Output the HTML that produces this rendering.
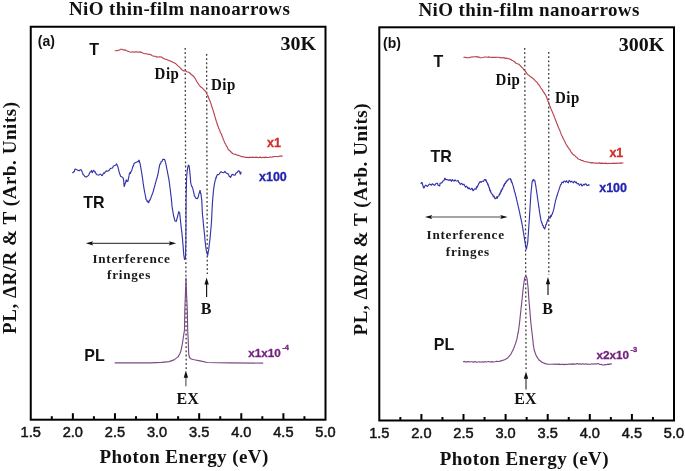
<!DOCTYPE html>
<html><head><meta charset="utf-8"><style>
html,body{margin:0;padding:0;background:#fff;}
svg{display:block;will-change:transform;}
text{font-family:"Liberation Sans",sans-serif;}
.tick{font-family:"Liberation Sans",sans-serif;font-size:14.6px;fill:#151515;stroke:#151515;stroke-width:0.5px;}
.title{font-family:"Liberation Serif",serif;font-size:19px;font-weight:bold;fill:#111;letter-spacing:0.39px;}
.axl{font-family:"Liberation Serif",serif;font-size:19px;font-weight:bold;fill:#111;letter-spacing:0.43px;}
.yl{letter-spacing:0.56px;}
.plab{font-family:"Liberation Sans",sans-serif;font-size:14px;font-weight:bold;fill:#111;}
.temp{font-family:"Liberation Serif",serif;font-size:20px;font-weight:bold;fill:#111;}
.clab{font-family:"Liberation Sans",sans-serif;font-size:16px;font-weight:bold;fill:#111;}
.dip{font-family:"Liberation Serif",serif;font-size:15px;font-weight:bold;fill:#111;letter-spacing:0.5px;}
.intf{font-family:"Liberation Serif",serif;font-size:13.2px;font-weight:bold;fill:#1a1a1a;letter-spacing:0.75px;}
.bex{font-family:"Liberation Serif",serif;font-size:16px;font-weight:bold;fill:#111;}
.mul{font-family:"Liberation Sans",sans-serif;font-size:12.5px;font-weight:bold;}
.mul2{font-family:"Liberation Sans",sans-serif;font-size:11.7px;font-weight:bold;}
.sup{font-size:7.5px;}
.red{fill:#d42a2a;stroke:#d42a2a;stroke-width:0.3px;}
.blue{fill:#2323b0;stroke:#2323b0;stroke-width:0.3px;}
.purp{fill:#72207e;stroke:#72207e;stroke-width:0.3px;}
.cT{fill:none;stroke:#b8434f;stroke-width:1.15;stroke-linejoin:round;}
.cTR{fill:none;stroke:#3434a8;stroke-width:1.15;stroke-linejoin:round;}
.cPL{fill:none;stroke:#7a4a84;stroke-width:1.15;stroke-linejoin:round;}
</style></head><body>
<svg width="685" height="471" viewBox="0 0 685 471">
<rect width="685" height="471" fill="#fff"/>
<rect x="30.75" y="26.75" width="294.75" height="392.95" fill="none" stroke="#000" stroke-width="2"/>
<text x="30.75" y="437.2" class="tick" text-anchor="middle">1.5</text>
<line x1="51.80" y1="416.2" x2="51.80" y2="419.7" stroke="#000" stroke-width="2"/>
<line x1="72.86" y1="413.2" x2="72.86" y2="419.7" stroke="#000" stroke-width="2"/>
<text x="72.86" y="437.2" class="tick" text-anchor="middle">2.0</text>
<line x1="93.91" y1="416.2" x2="93.91" y2="419.7" stroke="#000" stroke-width="2"/>
<line x1="114.96" y1="413.2" x2="114.96" y2="419.7" stroke="#000" stroke-width="2"/>
<text x="114.96" y="437.2" class="tick" text-anchor="middle">2.5</text>
<line x1="136.02" y1="416.2" x2="136.02" y2="419.7" stroke="#000" stroke-width="2"/>
<line x1="157.07" y1="413.2" x2="157.07" y2="419.7" stroke="#000" stroke-width="2"/>
<text x="157.07" y="437.2" class="tick" text-anchor="middle">3.0</text>
<line x1="178.12" y1="416.2" x2="178.12" y2="419.7" stroke="#000" stroke-width="2"/>
<line x1="199.18" y1="413.2" x2="199.18" y2="419.7" stroke="#000" stroke-width="2"/>
<text x="199.18" y="437.2" class="tick" text-anchor="middle">3.5</text>
<line x1="220.23" y1="416.2" x2="220.23" y2="419.7" stroke="#000" stroke-width="2"/>
<line x1="241.29" y1="413.2" x2="241.29" y2="419.7" stroke="#000" stroke-width="2"/>
<text x="241.29" y="437.2" class="tick" text-anchor="middle">4.0</text>
<line x1="262.34" y1="416.2" x2="262.34" y2="419.7" stroke="#000" stroke-width="2"/>
<line x1="283.39" y1="413.2" x2="283.39" y2="419.7" stroke="#000" stroke-width="2"/>
<text x="283.39" y="437.2" class="tick" text-anchor="middle">4.5</text>
<line x1="304.45" y1="416.2" x2="304.45" y2="419.7" stroke="#000" stroke-width="2"/>
<text x="325.50" y="437.2" class="tick" text-anchor="middle">5.0</text>
<rect x="379.3" y="27.3" width="294.7" height="393.2" fill="none" stroke="#000" stroke-width="2"/>
<text x="379.30" y="438.0" class="tick" text-anchor="middle">1.5</text>
<line x1="400.35" y1="417.0" x2="400.35" y2="420.5" stroke="#000" stroke-width="2"/>
<line x1="421.40" y1="414.0" x2="421.40" y2="420.5" stroke="#000" stroke-width="2"/>
<text x="421.40" y="438.0" class="tick" text-anchor="middle">2.0</text>
<line x1="442.45" y1="417.0" x2="442.45" y2="420.5" stroke="#000" stroke-width="2"/>
<line x1="463.50" y1="414.0" x2="463.50" y2="420.5" stroke="#000" stroke-width="2"/>
<text x="463.50" y="438.0" class="tick" text-anchor="middle">2.5</text>
<line x1="484.55" y1="417.0" x2="484.55" y2="420.5" stroke="#000" stroke-width="2"/>
<line x1="505.60" y1="414.0" x2="505.60" y2="420.5" stroke="#000" stroke-width="2"/>
<text x="505.60" y="438.0" class="tick" text-anchor="middle">3.0</text>
<line x1="526.65" y1="417.0" x2="526.65" y2="420.5" stroke="#000" stroke-width="2"/>
<line x1="547.70" y1="414.0" x2="547.70" y2="420.5" stroke="#000" stroke-width="2"/>
<text x="547.70" y="438.0" class="tick" text-anchor="middle">3.5</text>
<line x1="568.75" y1="417.0" x2="568.75" y2="420.5" stroke="#000" stroke-width="2"/>
<line x1="589.80" y1="414.0" x2="589.80" y2="420.5" stroke="#000" stroke-width="2"/>
<text x="589.80" y="438.0" class="tick" text-anchor="middle">4.0</text>
<line x1="610.85" y1="417.0" x2="610.85" y2="420.5" stroke="#000" stroke-width="2"/>
<line x1="631.90" y1="414.0" x2="631.90" y2="420.5" stroke="#000" stroke-width="2"/>
<text x="631.90" y="438.0" class="tick" text-anchor="middle">4.5</text>
<line x1="652.95" y1="417.0" x2="652.95" y2="420.5" stroke="#000" stroke-width="2"/>
<text x="674.00" y="438.0" class="tick" text-anchor="middle">5.0</text>
<line x1="185.2" y1="48" x2="186.2" y2="369" stroke="#383838" stroke-width="1.3" stroke-dasharray="1.8 2.4"/>
<line x1="206.6" y1="54" x2="207.3" y2="274" stroke="#383838" stroke-width="1.3" stroke-dasharray="1.8 2.4"/>
<line x1="524.7" y1="48" x2="526.1" y2="371" stroke="#383838" stroke-width="1.3" stroke-dasharray="1.8 2.4"/>
<line x1="548.7" y1="52" x2="548.8" y2="275" stroke="#383838" stroke-width="1.3" stroke-dasharray="1.8 2.4"/>
<polyline points="114.7,50.8 117.0,50.6 119.5,50.0 120.6,49.3 121.9,49.2 123.3,50.0 124.6,49.9 126.0,50.4 127.5,51.1 129.3,51.7 131.2,52.2 132.6,51.8 134.1,52.3 135.5,51.9 137.0,51.7 138.4,52.2 139.9,51.9 141.4,52.2 143.2,53.2 145.0,53.7 146.5,53.7 147.9,54.3 149.4,54.4 150.9,54.8 152.3,55.8 153.8,56.2 155.3,56.2 156.7,57.1 158.2,57.0 159.8,56.7 161.4,57.0 163.3,58.3 164.8,59.1 166.2,59.2 167.7,59.9 169.0,60.6 170.3,60.9 171.6,61.5 172.8,62.2 174.1,62.7 175.4,63.4 176.7,64.6 177.9,65.9 179.2,66.9 180.5,68.1 181.8,69.7 183.7,71.0 185.6,70.7 186.8,71.7 188.1,72.0 189.2,72.5 190.3,73.5 191.6,74.8 192.9,75.7 194.1,77.0 195.3,78.6 196.0,80.1 196.7,81.5 197.6,82.7 198.6,84.3 199.6,85.6 200.5,86.7 201.9,87.7 203.4,89.1 204.4,90.4 205.3,91.0 206.0,91.9 206.7,93.4 207.3,95.0 208.0,95.9 208.6,97.7 209.2,99.6 209.9,100.6 210.5,102.5 211.0,103.9 211.4,105.3 211.9,106.8 212.4,108.2 212.9,109.8 213.4,111.4 213.9,113.0 214.3,114.4 214.7,115.8 215.1,117.1 215.5,118.5 215.9,119.9 216.3,121.2 216.8,122.6 217.2,124.0 217.6,125.6 218.1,126.2 218.6,128.0 219.0,129.0 219.7,130.3 220.3,132.3 221.0,133.5 221.6,134.5 222.1,136.4 222.7,137.3 223.2,139.3 223.8,140.2 224.3,141.9 224.9,143.1 225.7,144.2 226.4,146.1 227.2,146.9 227.9,148.8 228.7,149.8 230.1,151.0 231.5,152.5 232.9,153.7 234.4,154.2 235.8,154.4 237.3,155.3 238.8,155.4 240.2,156.1 241.6,156.8 243.1,156.5 244.5,157.3 245.9,157.4 247.3,157.3 248.8,157.6 250.2,157.1 251.6,157.5 253.1,157.1 254.5,157.5 256.0,157.1 257.4,157.4 258.8,157.6 260.1,157.1 261.5,157.7 262.8,157.2 264.2,157.6 265.5,157.1 266.9,157.4 268.3,157.5 269.8,157.0 271.2,157.2 272.7,156.9 274.6,156.5 276.5,156.5 278.0,156.7 279.6,156.0 281.1,156.1 282.6,155.9" class="cT"/>
<polyline points="72.4,173.1 73.2,172.1 73.9,171.9 74.4,171.5 74.8,169.5 75.3,169.0 76.8,169.7 78.2,170.4 79.3,170.7 80.4,169.7 81.2,169.8 81.9,171.2 82.3,172.3 82.7,172.8 83.0,174.7 83.4,174.8 84.1,175.3 84.8,176.6 86.3,177.0 87.7,176.0 88.5,175.4 89.2,174.1 90.0,172.1 90.7,171.9 91.4,170.4 91.9,172.0 92.4,172.6 93.2,170.7 93.9,170.4 94.5,171.9 95.2,171.8 95.8,173.4 96.5,174.4 97.2,174.8 98.7,175.1 100.1,174.1 100.8,174.2 101.6,175.5 102.3,175.6 103.1,174.1 103.8,172.8 104.6,173.3 105.3,171.9 106.3,170.9 107.4,171.2 108.5,170.7 109.6,169.7 110.7,168.2 111.8,168.2 112.5,168.0 113.3,166.2 114.0,165.8 115.5,165.3 116.6,163.9 117.2,165.2 117.7,166.1 117.9,167.1 118.2,168.0 118.4,169.0 118.6,170.0 118.9,170.9 119.1,171.9 119.4,172.8 119.7,173.7 120.0,174.5 120.3,175.4 120.6,176.3 122.0,177.0 122.8,177.3 123.5,179.2 123.6,180.1 123.7,181.0 123.8,181.9 123.8,182.8 123.9,183.8 124.0,184.7 124.1,185.6 124.2,186.5 124.5,185.6 124.8,184.7 125.1,183.7 125.4,182.8 125.7,182.4 126.1,180.2 126.4,179.9 127.2,181.5 127.9,181.4 128.1,180.5 128.2,179.6 128.4,178.7 128.6,177.8 128.8,176.8 129.0,175.9 129.1,175.0 129.3,174.1 129.9,172.7 130.4,173.5 130.9,171.5 131.5,171.2 131.8,170.2 132.1,169.2 132.4,168.1 132.7,167.1 133.0,166.1 133.5,165.9 134.0,163.6 134.5,163.1 135.9,162.4 137.4,161.7 138.1,161.8 138.8,160.2 139.2,160.4 139.6,162.4 140.0,163.1 140.2,164.0 140.3,165.0 140.5,165.9 140.7,166.8 140.8,167.8 141.0,168.7 141.1,169.7 141.3,170.6 141.5,171.5 141.6,172.5 141.8,173.4 141.9,174.3 142.1,175.2 142.2,176.1 142.3,177.1 142.5,178.0 142.6,178.9 142.7,179.8 142.9,180.7 143.0,181.6 143.1,182.5 143.2,183.4 143.4,184.3 143.5,185.3 143.6,186.2 143.8,187.1 143.9,188.0 144.1,188.9 144.2,189.8 144.4,190.7 144.6,191.6 144.7,192.5 144.9,193.4 145.1,194.2 145.3,195.1 145.4,196.0 145.6,196.9 145.8,197.8 145.9,198.7 146.1,199.6 146.7,200.1 147.2,201.5 147.8,201.1 148.3,202.8 148.9,202.3 149.4,200.2 149.9,200.3 150.5,198.9 150.8,198.0 151.1,197.1 151.5,196.2 151.8,195.3 152.1,194.5 152.4,193.6 152.8,192.7 153.1,191.8 153.4,190.9 153.6,190.0 153.9,189.0 154.1,188.1 154.4,187.2 154.6,186.3 154.9,185.3 155.1,184.4 155.4,183.5 155.6,182.6 155.9,181.7 156.1,180.8 156.4,179.9 156.7,179.1 156.9,178.2 157.2,177.3 157.4,176.4 157.7,175.5 157.9,174.6 158.0,173.6 158.2,172.7 158.4,171.8 158.6,170.9 158.7,169.9 158.9,169.0 159.1,168.1 159.3,167.2 159.4,166.2 159.6,165.3 160.1,163.8 160.6,163.9 161.0,162.0 161.5,161.5 162.1,161.3 162.8,159.4 163.4,159.2 164.7,159.6 164.9,160.5 165.2,161.4 165.4,162.2 165.7,163.1 165.9,164.0 166.1,164.9 166.3,165.9 166.4,166.8 166.6,167.7 166.8,168.6 167.0,169.6 167.2,170.5 167.4,171.4 167.5,172.3 167.7,173.3 167.9,174.2 168.1,175.1 168.2,176.0 168.4,176.9 168.6,177.9 168.8,178.8 168.9,179.7 169.1,180.6 169.2,181.5 169.3,182.5 169.5,183.4 169.6,184.3 169.7,185.2 169.8,186.2 169.9,187.1 170.0,188.0 170.2,188.9 170.3,189.9 170.4,190.8 170.5,191.8 170.6,192.8 170.7,193.7 170.8,194.7 171.0,195.7 171.1,196.7 171.2,197.6 171.3,198.6 171.4,199.6 171.5,200.5 171.6,201.4 171.7,202.3 171.8,203.2 171.8,204.2 171.9,205.1 172.0,206.0 172.1,206.9 172.3,207.8 172.4,208.7 172.6,209.7 172.7,210.6 172.9,211.5 173.0,212.4 173.2,213.4 173.3,214.3 173.5,215.2 173.7,216.1 173.9,217.0 174.2,217.9 174.4,218.9 174.6,219.8 174.8,220.7 176.2,221.4 176.5,220.4 176.8,219.5 177.0,218.5 177.3,217.6 177.6,216.6 177.8,215.6 178.0,214.6 178.3,213.7 178.5,212.7 178.7,211.7 179.7,213.1 179.8,214.0 179.9,215.0 180.0,215.9 180.1,216.9 180.2,217.8 180.3,218.8 180.4,219.7 180.5,220.7 180.6,221.6 180.7,222.6 180.8,223.5 180.9,224.5 181.0,225.4 181.1,226.4 181.2,227.3 181.3,228.3 181.4,229.2 181.6,230.2 181.7,231.1 181.8,232.1 181.9,233.0 182.0,234.0 182.1,234.9 182.2,235.9 182.3,236.9 182.4,237.8 182.5,238.8 182.6,239.8 182.6,240.8 182.7,241.7 182.8,242.7 182.9,243.7 183.0,244.6 183.1,245.6 183.2,246.6 183.2,247.5 183.3,248.5 183.4,249.4 183.4,250.4 183.5,251.4 183.6,252.3 183.7,253.3 183.7,254.2 183.8,255.2 184.0,256.2 184.2,257.3 184.3,258.3 184.5,259.4 185.5,258.0 185.5,257.1 185.5,256.2 185.6,255.2 185.6,254.3 185.6,253.4 185.6,252.5 185.7,251.5 185.7,250.6 185.7,249.7 185.7,248.8 185.7,247.9 185.8,246.9 185.8,246.0 185.8,245.1 185.8,244.2 185.9,243.2 185.9,242.3 185.9,241.4 185.9,240.5 185.9,239.6 185.9,238.7 185.9,237.8 185.9,236.9 185.9,236.0 185.9,235.1 185.9,234.2 185.9,233.3 185.9,232.4 185.9,231.5 186.0,230.6 186.0,229.7 186.0,228.8 186.0,227.9 186.0,227.0 186.0,226.1 186.0,225.2 186.0,224.3 186.0,223.4 186.0,222.5 186.0,221.6 186.0,220.7 186.0,219.8 186.0,218.9 186.0,218.0 186.0,217.1 186.0,216.2 186.0,215.3 186.0,214.4 186.0,213.5 186.0,212.6 186.0,211.7 186.0,210.8 186.1,209.9 186.1,209.0 186.1,208.1 186.1,207.2 186.1,206.3 186.1,205.4 186.1,204.5 186.1,203.6 186.1,202.7 186.1,201.8 186.1,200.9 186.1,200.0 186.1,199.1 186.1,198.1 186.2,197.2 186.2,196.3 186.2,195.3 186.2,194.4 186.2,193.4 186.2,192.5 186.3,191.6 186.3,190.6 186.3,189.7 186.3,188.8 186.3,187.8 186.4,186.9 186.4,186.0 186.4,185.0 186.4,184.1 186.4,183.1 186.4,182.2 186.5,181.3 186.5,180.3 186.5,179.4 186.6,178.5 186.6,177.6 186.7,176.7 186.8,175.7 186.9,174.8 186.9,173.9 187.0,173.0 187.1,171.9 187.2,170.9 187.4,169.9 187.5,168.8 187.7,167.9 187.9,166.9 188.2,166.0 188.4,165.1 189.1,165.6 189.2,166.7 189.3,167.7 189.5,168.8 189.6,169.8 189.7,170.9 189.8,172.0 189.9,173.0 190.0,174.1 190.1,175.1 190.2,176.2 190.3,177.1 190.3,178.0 190.4,178.9 190.5,179.8 190.6,180.7 190.6,181.6 190.7,182.5 190.9,183.6 191.2,184.7 191.8,186.6 192.3,186.8 192.6,187.9 192.9,188.9 193.1,189.9 193.4,191.0 193.6,192.0 193.8,192.9 194.0,193.9 194.2,194.8 194.4,195.8 194.9,196.2 195.5,197.9 196.5,198.4 197.3,198.7 198.1,197.4 198.4,196.3 198.6,195.2 198.9,194.2 199.2,193.1 199.6,191.8 199.9,190.5 200.2,190.6 200.5,193.1 200.8,193.1 200.9,194.0 201.1,195.0 201.2,195.9 201.3,196.8 201.4,197.8 201.6,198.7 201.7,199.7 201.8,200.6 201.8,201.5 201.9,202.5 201.9,203.4 202.0,204.4 202.0,205.3 202.1,206.3 202.1,207.2 202.1,208.2 202.2,209.2 202.2,210.1 202.3,211.1 202.3,212.0 202.4,213.0 202.4,213.9 202.5,214.8 202.6,215.8 202.7,216.7 202.8,217.6 202.9,218.6 203.0,219.5 203.1,220.4 203.2,221.4 203.2,222.3 203.3,223.3 203.4,224.2 203.5,225.1 203.6,226.1 203.7,227.0 203.8,227.9 203.9,228.9 204.0,229.8 204.1,230.7 204.2,231.7 204.3,232.6 204.4,233.5 204.5,234.5 204.6,235.4 204.7,236.3 204.8,237.3 204.8,238.2 204.9,239.2 205.0,240.1 205.1,241.0 205.2,242.0 205.3,242.9 205.4,243.8 205.5,244.8 205.6,245.7 205.7,246.6 205.9,247.5 206.0,248.4 206.1,249.3 206.3,250.2 206.4,251.1 206.6,252.0 206.7,252.9 207.2,253.4 207.7,255.3 207.9,254.4 208.0,253.5 208.2,252.6 208.3,251.6 208.5,250.7 208.6,249.8 208.8,248.9 208.9,248.0 209.0,247.1 209.1,246.1 209.2,245.2 209.3,244.3 209.4,243.4 209.6,242.4 209.7,241.5 209.8,240.6 209.9,239.7 210.0,238.7 210.1,237.8 210.2,236.9 210.3,235.9 210.3,235.0 210.4,234.0 210.5,233.1 210.6,232.2 210.7,231.2 210.8,230.3 210.8,229.3 210.9,228.4 211.0,227.4 211.1,226.5 211.2,225.6 211.3,224.6 211.3,223.7 211.4,222.7 211.5,221.8 211.5,220.9 211.6,219.9 211.6,219.0 211.7,218.0 211.7,217.1 211.8,216.2 211.8,215.2 211.9,214.3 211.9,213.3 211.9,212.4 212.0,211.5 212.0,210.5 212.1,209.6 212.1,208.6 212.2,207.7 212.2,206.8 212.3,205.8 212.3,204.9 212.4,203.9 212.4,203.0 212.5,202.1 212.6,201.2 212.6,200.3 212.7,199.4 212.8,198.5 212.9,197.6 212.9,196.7 213.0,195.8 213.1,194.9 213.2,194.0 213.2,193.1 213.3,192.2 213.4,191.3 213.5,190.3 213.7,189.4 213.8,188.4 213.9,187.5 214.0,186.5 214.2,185.6 214.3,184.6 214.5,183.7 214.7,182.7 214.9,181.8 215.1,180.8 215.3,179.9 215.7,179.2 216.0,177.2 216.3,177.8 216.7,176.0 217.4,174.5 218.2,174.6 219.1,174.2 220.1,172.7 221.1,171.8 222.0,172.2 223.4,172.7 224.2,172.3 224.9,171.3 225.8,172.7 227.2,173.6 227.9,173.6 228.7,175.1 229.3,176.5 229.8,176.3 230.4,177.5 230.9,176.8 231.5,175.6 232.2,174.3 233.0,174.6 234.4,175.1 235.2,175.0 235.9,173.2 237.3,172.2 238.0,171.3 238.7,170.8 239.7,171.7 240.1,173.7 240.6,174.1 240.9,172.9 241.3,171.7" class="cTR"/>
<polyline points="114.7,362.9 150.0,362.9 161.5,362.4 169.1,361.6 174.0,359.9 178.0,356.9 180.0,353.5 181.0,350.6 182.5,343.0 184.0,333.0 184.5,330.0 184.8,310.0 185.4,295.0 186.0,278.0 186.6,295.0 187.3,310.0 187.7,330.0 188.2,340.0 188.7,354.0 189.5,357.5 191.2,359.0 194.2,359.8 200.0,360.9 207.3,362.5 230.0,362.9 263.2,363.1" class="cPL"/>
<polyline points="463.4,57.2 465.2,57.4 467.0,57.8 468.9,57.6 470.8,57.2 472.1,56.9 473.5,57.0 474.8,56.7 476.1,56.6 477.4,57.1 478.7,56.9 480.0,57.6 481.6,57.8 483.1,57.5 484.6,57.0 486.0,57.0 487.4,57.2 488.7,56.9 490.1,57.2 491.4,57.4 492.7,57.2 494.0,57.4 495.6,57.4 497.1,57.2 498.6,57.3 500.0,57.6 501.4,58.0 502.7,57.5 504.1,57.9 505.4,58.4 506.7,58.1 508.0,58.8 509.3,58.9 510.5,59.3 511.7,60.3 512.9,60.7 514.0,61.2 515.0,62.3 516.1,63.3 517.2,63.7 518.8,64.3 520.3,65.6 521.2,66.7 522.2,67.6 523.1,68.4 523.9,69.9 524.8,70.7 525.8,71.9 526.9,73.6 527.9,74.7 529.0,75.3 530.0,76.4 532.1,77.7 533.2,78.8 534.2,79.4 535.3,81.0 536.4,81.7 537.3,82.7 538.2,84.3 539.1,85.0 540.0,86.5 540.9,88.0 541.7,89.1 542.5,90.1 543.4,92.0 544.2,92.7 545.1,94.4 545.9,95.5 546.4,96.7 547.0,98.5 547.5,99.6 548.0,101.3 548.6,102.3 549.1,104.0 549.6,105.4 550.2,106.6 550.7,108.2 551.2,109.2 551.8,110.8 552.3,111.7 552.9,113.4 553.4,114.6 553.9,115.6 554.5,117.4 555.0,118.4 555.5,120.0 556.0,121.0 556.5,122.7 557.1,123.7 557.6,125.2 558.1,126.8 558.7,127.7 559.2,129.4 559.8,130.2 560.3,131.9 560.8,133.1 561.4,134.6 561.9,135.8 562.5,136.7 563.1,138.5 563.7,139.3 564.3,140.8 564.9,141.8 565.5,143.3 566.1,144.3 566.9,145.4 567.7,147.0 568.5,147.6 569.3,149.4 570.1,150.0 570.9,151.8 571.7,152.6 572.5,153.9 573.5,154.9 574.6,155.3 575.6,156.8 576.7,157.2 577.8,158.7 578.8,159.2 580.1,159.5 581.4,160.5 582.6,160.5 583.9,161.3 585.2,161.7 586.6,161.7 588.0,162.2 589.5,162.2 590.9,162.9 592.3,162.6 593.7,163.0 595.0,163.1 596.4,163.0 597.7,163.3 599.0,162.9 600.3,163.4 601.6,163.1 603.0,163.4 604.3,163.4 605.6,163.1 606.9,163.6 608.3,163.3 609.6,163.5 610.9,163.3 612.2,163.5 613.6,163.1 614.9,163.4 616.3,163.4 617.7,163.1 619.1,163.3 620.6,162.9 622.0,163.2 623.4,162.8" class="cT"/>
<polyline points="420.8,183.9 421.5,182.5 422.1,182.6 422.3,183.4 422.5,184.3 422.8,185.1 423.0,186.0 423.2,186.8 423.4,187.7 424.0,188.0 424.6,186.5 425.6,185.2 426.5,185.8 427.5,186.5 428.5,185.2 429.4,184.0 430.4,184.5 431.4,185.2 432.3,183.9 433.2,184.3 434.2,185.2 434.9,185.2 435.5,183.9 436.7,183.3 437.4,183.2 438.0,185.2 439.3,185.8 439.7,185.8 440.1,183.1 440.5,183.3 441.5,183.0 442.5,182.0 443.1,180.7 443.7,180.7 444.1,180.3 444.6,178.3 445.0,178.2 445.6,179.6 446.3,179.5 447.2,179.6 448.2,180.1 449.0,180.5 449.9,179.6 450.7,180.1 451.6,181.3 452.4,179.6 453.3,180.7 454.1,181.1 455.0,179.8 455.8,180.7 456.8,181.0 457.7,180.7 458.2,180.6 458.6,182.3 459.1,182.4 459.6,183.3 460.5,184.5 461.3,183.3 462.2,183.9 463.0,184.9 463.9,184.1 464.7,185.8 465.6,187.2 466.4,186.2 467.3,187.1 468.1,188.8 469.0,187.7 469.8,189.0 470.8,189.5 471.7,188.4 472.3,188.6 473.0,190.7 473.6,190.3 474.6,188.8 475.5,189.0 476.0,189.4 476.5,186.7 477.0,187.6 477.5,186.5 477.9,185.1 478.3,185.2 478.7,183.6 479.1,183.4 479.5,182.3 480.3,181.5 481.1,182.5 481.9,181.3 482.7,181.2 483.6,181.4 484.4,179.5 485.3,179.5 485.7,180.7 486.1,180.0 486.6,182.2 487.0,182.3 487.3,182.6 487.6,184.5 487.9,183.7 488.2,185.6 488.5,185.0 488.8,187.1 489.1,187.6 489.4,187.5 489.7,190.1 490.0,189.6 490.3,191.5 490.6,190.8 490.9,192.9 491.2,192.9 491.7,193.4 492.3,194.6 492.8,194.6 493.3,196.8 493.9,196.0 494.4,197.1 495.1,198.7 495.9,198.6 496.6,196.9 497.2,198.4 497.9,196.2 498.6,196.1 499.0,195.8 499.4,193.8 499.8,194.6 500.2,192.6 500.6,193.0 501.0,190.4 501.4,191.5 501.8,189.7 502.2,188.6 502.6,189.2 503.0,187.0 503.4,187.0 503.8,184.9 504.2,185.9 504.6,183.6 505.0,183.3 505.5,183.7 506.1,181.3 506.6,181.9 507.1,180.3 507.7,180.5 508.2,179.5 509.2,178.8 510.3,178.7 510.6,179.8 511.0,179.4 511.4,182.1 511.7,181.4 512.0,182.8 512.4,183.3 512.6,184.1 512.8,184.9 513.0,185.7 513.3,186.4 513.5,187.2 513.7,188.0 513.9,188.8 514.1,189.6 514.3,190.4 514.5,191.2 514.7,192.0 515.0,192.7 515.2,193.5 515.4,194.3 515.6,195.1 515.8,195.9 516.0,196.7 516.2,197.5 516.4,198.3 516.5,199.1 516.7,199.9 516.9,200.7 517.1,201.5 517.3,202.4 517.5,203.2 517.7,204.0 517.9,204.8 518.0,205.6 518.2,206.4 518.4,207.2 518.6,208.0 518.8,208.8 519.0,209.6 519.2,210.4 519.3,211.3 519.5,212.1 519.7,212.9 519.9,213.7 520.0,214.6 520.2,215.4 520.4,216.2 520.6,217.0 520.8,217.8 520.9,218.7 521.1,219.5 521.3,220.3 521.5,221.1 521.6,222.0 521.8,222.8 522.0,223.6 522.1,224.4 522.3,225.2 522.4,226.0 522.5,226.8 522.7,227.6 522.8,228.4 522.9,229.2 523.0,230.0 523.2,230.8 523.3,231.6 523.4,232.4 523.6,233.2 523.7,234.0 523.8,234.8 524.0,235.6 524.1,236.4 524.2,237.2 524.4,238.0 524.5,238.8 524.6,239.6 524.7,240.4 524.9,241.2 525.0,241.9 525.1,242.7 525.2,243.5 525.4,244.3 525.5,245.1 525.6,245.9 525.8,246.7 526.0,247.5 526.2,248.3 526.4,249.1 526.6,248.3 526.7,247.5 526.9,246.7 527.0,245.9 527.2,245.1 527.4,244.3 527.5,243.5 527.7,242.7 527.8,241.9 527.8,241.1 527.9,240.3 527.9,239.5 528.0,238.7 528.0,237.9 528.1,237.1 528.1,236.3 528.2,235.5 528.3,234.7 528.3,233.9 528.4,233.1 528.4,232.3 528.5,231.4 528.5,230.6 528.6,229.8 528.6,229.0 528.7,228.2 528.8,227.4 528.8,226.6 528.9,225.8 528.9,225.0 529.0,224.2 529.0,223.4 529.1,222.6 529.1,221.8 529.2,221.0 529.3,220.2 529.3,219.4 529.4,218.5 529.4,217.7 529.5,216.9 529.5,216.1 529.6,215.3 529.6,214.4 529.7,213.6 529.7,212.8 529.8,212.0 529.8,211.1 529.9,210.3 529.9,209.5 530.0,208.7 530.0,207.9 530.1,207.0 530.1,206.2 530.2,205.4 530.2,204.6 530.3,203.8 530.3,202.9 530.4,202.1 530.4,201.3 530.5,200.5 530.5,199.6 530.6,198.8 530.6,198.0 530.7,197.2 530.7,196.4 530.8,195.5 530.8,194.7 530.9,193.9 531.0,193.1 531.1,192.2 531.2,191.4 531.2,190.5 531.3,189.7 531.4,188.8 531.5,188.0 531.6,187.2 531.7,186.3 531.8,185.5 531.8,184.6 531.9,183.8 532.0,182.9 532.1,182.1 532.6,180.1 533.0,181.1 533.5,179.5 534.8,180.4 534.9,181.2 535.1,182.1 535.2,182.9 535.4,183.8 535.5,184.7 535.7,185.5 535.9,186.3 536.0,187.2 536.1,188.0 536.2,188.9 536.4,189.7 536.5,190.6 536.6,191.4 536.7,192.3 536.9,193.1 537.0,193.9 537.1,194.8 537.2,195.6 537.3,196.5 537.5,197.3 537.6,198.2 537.7,199.0 537.8,199.8 537.9,200.6 538.0,201.4 538.2,202.2 538.3,203.0 538.4,203.8 538.5,204.6 538.6,205.3 538.7,206.1 538.8,206.9 538.9,207.7 539.1,208.5 539.2,209.3 539.3,210.1 539.4,210.9 539.5,211.8 539.7,212.6 539.8,213.4 540.0,214.3 540.1,215.2 540.2,216.0 540.4,216.8 540.5,217.7 540.7,218.6 540.8,219.4 541.0,220.2 541.1,221.1 541.4,221.4 541.8,223.2 542.1,222.9 542.5,225.4 542.8,225.3 543.2,225.5 543.6,227.6 544.1,227.6 544.5,228.7 544.8,228.9 545.2,226.8 545.5,226.8 545.9,224.4 546.2,224.5 546.5,223.7 546.8,222.8 547.0,221.9 547.3,221.1 547.6,220.2 547.9,219.4 548.5,219.2 549.0,217.4 549.6,217.7 550.1,218.1 550.6,215.6 551.2,216.6 551.7,214.7 552.2,214.3 552.5,213.5 552.7,212.6 553.0,211.8 553.3,210.9 553.5,210.0 553.8,209.2 554.0,208.3 554.1,207.5 554.3,206.6 554.5,205.8 554.6,204.9 554.8,204.1 555.0,203.2 555.2,202.4 555.3,201.5 555.5,200.7 555.7,199.9 556.0,199.2 556.2,198.4 556.4,197.6 556.7,196.8 556.9,196.1 557.2,195.3 557.4,194.5 557.6,193.7 557.9,193.0 558.1,192.2 558.4,191.4 558.6,190.7 558.9,189.9 559.1,189.2 559.4,188.4 559.6,187.6 559.9,186.9 560.1,186.1 560.4,185.4 560.6,184.6 561.2,184.4 561.7,182.6 562.3,182.1 563.2,182.8 564.0,181.0 564.9,181.2 565.7,182.1 566.6,180.7 567.4,182.1 568.3,182.8 569.1,180.4 570.0,181.2 570.8,182.1 571.7,181.2 572.5,182.1 573.4,182.8 574.2,181.2 575.1,181.7 575.7,182.7 576.4,182.2 577.0,183.6 577.6,183.8 578.5,183.5 579.3,185.4 580.2,184.6 581.0,183.8 581.9,186.0 582.7,185.5 583.5,184.3 584.4,184.9 585.2,183.8 586.1,184.1 586.9,185.4 587.8,185.5 588.6,184.6 589.5,185.5" class="cTR"/>
<polyline points="463.0,361.8 464.5,361.4 466.0,362.1 467.6,361.5 469.1,361.9 470.6,361.7 472.1,361.7 473.6,362.1 475.2,361.6 476.7,362.3 478.2,362.0 479.6,361.8 480.9,362.2 482.3,361.7 483.7,362.2 485.1,361.5 486.4,362.0 487.8,361.7 489.2,361.5 490.7,362.0 492.1,361.6 493.6,362.0 495.0,361.8 496.7,361.2 498.4,361.5 500.1,361.1 504.6,359.8 507.7,357.9 510.9,354.1 513.5,349.0 515.4,343.9 517.0,338.8 517.6,335.0 518.5,331.0 519.6,322.3 520.8,311.0 522.0,300.0 523.0,290.0 523.8,283.7 524.6,278.2 525.8,275.5 527.0,278.2 528.1,287.7 528.9,300.0 529.9,311.0 530.8,322.3 531.8,331.0 532.9,340.2 533.3,345.0 534.4,350.8 536.3,355.9 538.8,359.7 542.0,362.3 545.2,363.6 548.4,364.2 552.7,364.2 554.0,364.0 555.3,364.4 556.6,364.0 557.9,364.4 559.2,364.1 560.5,364.5 561.8,364.3 563.1,364.4 564.4,364.6 565.7,364.2 567.1,364.5 568.4,364.1 569.7,364.3 571.0,363.9 572.3,364.4 573.7,363.9 575.0,364.1 576.3,363.9 577.6,363.6 578.9,364.3 580.2,363.7 581.5,364.2 582.8,363.7 584.2,364.2 585.5,363.8 586.8,364.3 588.1,364.0 589.4,364.2 590.7,364.2 592.0,363.8 593.3,364.2 594.7,363.7 596.0,364.0 597.3,363.6 598.6,363.7 600.0,364.5 601.3,364.4 602.6,365.0 603.9,364.9 605.2,364.6 606.5,364.7 607.9,364.1 609.2,364.4 610.5,363.9 611.8,363.9" class="cPL"/>
<line x1="206.6" y1="282.4" x2="206.6" y2="297" stroke="#111" stroke-width="1.15"/><path d="M206.6 277.4 L204.4 284.59999999999997 L208.79999999999998 284.59999999999997 Z" fill="#111"/>
<line x1="185.9" y1="375.5" x2="185.9" y2="386.3" stroke="#555" stroke-width="1.15"/><path d="M185.9 370.5 L183.70000000000002 377.7 L188.1 377.7 Z" fill="#111"/>
<line x1="548.0" y1="282.1" x2="548.0" y2="295" stroke="#111" stroke-width="1.15"/><path d="M548.0 277.1 L545.8 284.3 L550.2 284.3 Z" fill="#111"/>
<line x1="526.0" y1="376.6" x2="526.0" y2="389.4" stroke="#333" stroke-width="1.15"/><path d="M526.0 371.6 L523.8 378.8 L528.2 378.8 Z" fill="#111"/>
<line x1="88.8" y1="243.3" x2="173.2" y2="243.3" stroke="#4a4a4a" stroke-width="1.2"/><path d="M85.8 243.3 L93.2 241.20000000000002 L91.8 243.3 L93.2 245.4 Z" fill="#111"/><path d="M176.2 243.3 L168.79999999999998 241.20000000000002 L170.2 243.3 L168.79999999999998 245.4 Z" fill="#111"/>
<line x1="427.9" y1="217.0" x2="504.6" y2="217.0" stroke="#4a4a4a" stroke-width="1.2"/><path d="M424.9 217.0 L432.29999999999995 214.9 L430.9 217.0 L432.29999999999995 219.1 Z" fill="#111"/><path d="M507.6 217.0 L500.20000000000005 214.9 L501.6 217.0 L500.20000000000005 219.1 Z" fill="#111"/>
<text x="69" y="15" class="title" >NiO thin-film nanoarrows</text>
<text x="418.5" y="15.5" class="title" >NiO thin-film nanoarrows</text>
<text x="99.5" y="463.4" class="axl" >Photon Energy (eV)</text>
<text x="439.7" y="464.8" class="axl" >Photon Energy (eV)</text>
<text class="axl yl" transform="translate(16.3,334) rotate(-90)" x="0" y="0">PL, &#916;R/R &amp; T (Arb. Units)</text>
<text class="axl yl" transform="translate(366.8,335.5) rotate(-90)" x="0" y="0">PL, &#916;R/R &amp; T (Arb. Units)</text>
<text x="37.8" y="46" class="plab" >(a)</text>
<text x="383" y="47.8" class="plab" >(b)</text>
<text transform="translate(280.5,50.3) scale(1,0.93)" class="temp" >30K</text>
<text transform="translate(618.8,51.0) scale(1,0.93)" class="temp" >300K</text>
<text transform="translate(89.3,55.4) scale(1,1.06)" class="clab" >T</text>
<text transform="translate(433.4,66.8) scale(1,1.06)" class="clab" >T</text>
<text transform="translate(83.2,207.5) scale(1,1.06)" class="clab" >TR</text>
<text transform="translate(430.4,161.5) scale(1,1.06)" class="clab" >TR</text>
<text transform="translate(84.3,361.2) scale(1,1.06)" class="clab" >PL</text>
<text transform="translate(433.8,349.9) scale(1,1.06)" class="clab" >PL</text>
<text transform="translate(154.6,79.2) scale(1,1.06)" class="dip" >Dip</text>
<text transform="translate(211,90.4) scale(1,1.06)" class="dip" >Dip</text>
<text transform="translate(495.6,84.7) scale(1,1.06)" class="dip" >Dip</text>
<text transform="translate(555,102.9) scale(1,1.06)" class="dip" >Dip</text>
<text x="267" y="147.1" class="mul red" >x1</text>
<text x="609.4" y="157" class="mul red" >x1</text>
<text x="259" y="180.8" class="mul blue" >x100</text>
<text x="599.2" y="191.8" class="mul blue" >x100</text>
<text x="248.3" y="356.5" class="mul2 purp" >x1x10<tspan class="sup" dx="1.4" dy="-7">-4</tspan></text>
<text x="596.5" y="358.7" class="mul2 purp" >x2x10<tspan class="sup" dx="1.4" dy="-7">-3</tspan></text>
<text x="92.4" y="262.7" class="intf" >Interference</text>
<text x="107" y="278.7" class="intf" >fringes</text>
<text x="426.5" y="238.9" class="intf" >Interference</text>
<text x="445.8" y="255.6" class="intf" >fringes</text>
<text x="200.7" y="314.2" class="bex" >B</text>
<text x="542.2" y="313.5" class="bex" >B</text>
<text x="176.5" y="404" class="bex" >EX</text>
<text x="514.3" y="404.1" class="bex" >EX</text>
</svg>
</body></html>
